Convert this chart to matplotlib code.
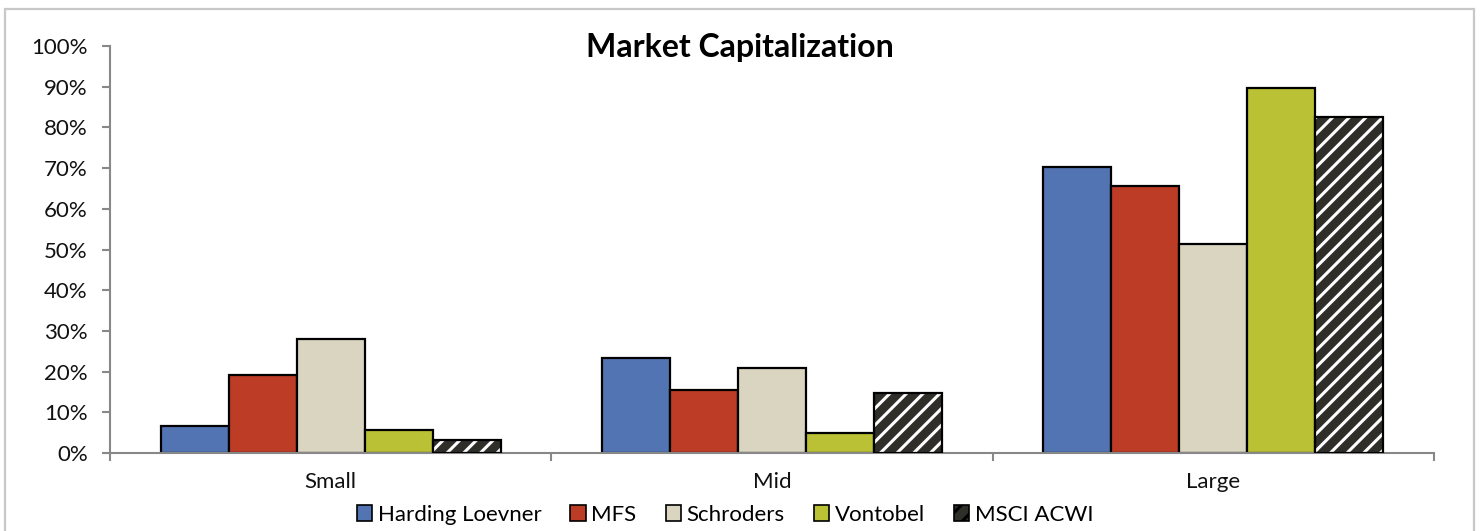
import numpy as np
import matplotlib
matplotlib.use("Agg")
import matplotlib.pyplot as plt
from matplotlib.patches import Patch, Rectangle

# ── Data ───────────────────────────────────────────────────────────────────────
categories = ["Small", "Mid", "Large"]
managers   = ["Harding Loevner", "MFS", "Schroders", "Vontobel", "MSCI ACWI"]
harding    = [6.6, 23.3, 70.3]
mfs        = [19.2, 15.5, 65.6]
schroders  = [28.0, 20.9, 51.4]
vontobel   = [5.7, 4.9, 89.7]
msci_acwi  = [3.2, 14.7, 82.6]
y_ticks    = [0, 10, 20, 30, 40, 50, 60, 70, 80, 90, 100]

series = [harding, mfs, schroders, vontobel, msci_acwi]
colors = ["#5374B2", "#BD3C26", "#D9D5C0", "#BBC134", "#2F2E29"]

plt.rcParams["font.family"] = ["Lato", "DejaVu Sans"]
plt.rcParams["hatch.linewidth"] = 2.2
plt.rcParams["hatch.color"] = "white"

fig = plt.figure(figsize=(14.81, 5.31), dpi=100)
fig.patch.set_facecolor("white")
# light grey chart frame
fig.patches.append(Rectangle((5/1481, -0.05), 1469/1481, 1.05 - 9/531,
                             transform=fig.transFigure, fill=False,
                             edgecolor="#C8C8C8", lw=1.6, zorder=0))

ax = fig.add_axes([110/1481, 78/531, 1324/1481, 407/531])

x = np.arange(len(categories))
w = 0.154
for i, (vals, col) in enumerate(zip(series, colors)):
    pos = x + (i - 2) * w
    if i == 4:
        # striped fill first, then a plain black outline on top
        ax.bar(pos, vals, w, color=col, hatch="//", edgecolor="white",
               linewidth=0, zorder=2)
        ax.bar(pos, vals, w, fill=False, edgecolor="black", linewidth=1.6, zorder=3)
    else:
        ax.bar(pos, vals, w, color=col, edgecolor="black", linewidth=1.6, zorder=2)

ax.set_xlim(-0.5, 2.5)
ax.set_ylim(0, 100)
ax.set_yticks(y_ticks)
ax.set_yticklabels([f"{v}%" for v in y_ticks])
ax.set_xticks([-0.5, 0.5, 1.5, 2.5])
ax.set_xticklabels([])
ax.set_xticks(x, minor=True)
ax.set_xticklabels(categories, minor=True)
ax.tick_params(axis="x", which="minor", length=0, pad=14, labelsize=16, colors="#111111")
ax.tick_params(axis="x", which="major", length=6, width=1.5, color="#888888")
ax.tick_params(axis="y", length=6, width=1.5, color="#888888", labelsize=16,
               labelcolor="#111111", pad=10)

for side in ("top", "right"):
    ax.spines[side].set_visible(False)
for side in ("left", "bottom"):
    ax.spines[side].set_color("#888888")
    ax.spines[side].set_linewidth(1.5)

fig.text(740/1481, 1 - 47/531, "Market Capitalization", ha="center", va="center",
         fontsize=23, fontweight="bold", color="black")

handles = []
for name, col in zip(managers, colors):
    if name == "MSCI ACWI":
        handles.append(Patch(facecolor=col, edgecolor="black", hatch="//", linewidth=1.2))
    else:
        handles.append(Patch(facecolor=col, edgecolor="black", linewidth=1.2))
fig.legend(handles, managers, loc="center", bbox_to_anchor=(725/1481, 16/531),
           ncol=5, frameon=False, fontsize=16, handlelength=0.7, handleheight=0.7,
           handletextpad=0.25, columnspacing=1.3)

plt.savefig("out.png", dpi=100, facecolor=fig.get_facecolor())
plt.close()
